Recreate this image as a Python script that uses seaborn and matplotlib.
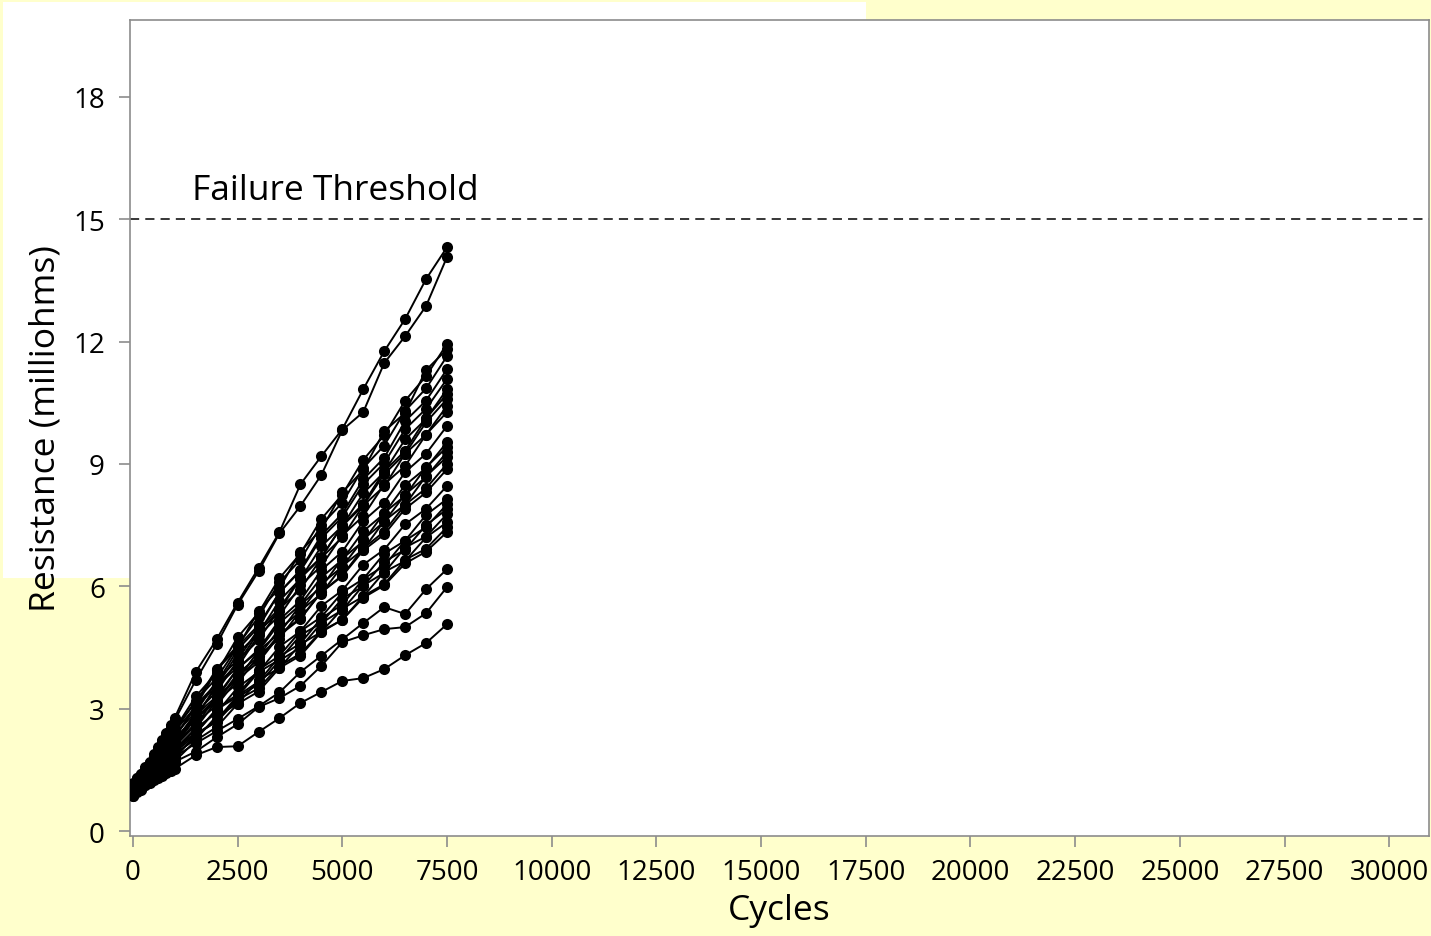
import numpy as np
import pandas as pd
import matplotlib
matplotlib.use("Agg")
import matplotlib.pyplot as plt
from matplotlib.patches import Rectangle
import seaborn as sns

# measurement times (cycles)
cycles = [0, 100, 200, 300, 400, 500, 600, 700, 800, 900, 1000,
          1500, 2000, 2500, 3000, 3500, 4000, 4500, 5000, 5500, 6000, 6500, 7000, 7500]

# resistance (milliohms) per unit
u01 = [1.00, 1.17, 1.35, 1.52, 1.70, 1.88, 2.05, 2.24, 2.41, 2.60, 2.78, 3.90, 4.70, 5.60, 6.45, 7.33, 8.50, 9.19, 9.85, 10.83, 11.76, 12.55, 13.53, 14.31]
u02 = [1.02, 1.18, 1.34, 1.50, 1.68, 1.85, 2.02, 2.20, 2.38, 2.55, 2.72, 3.70, 4.58, 5.55, 6.37, 7.30, 7.97, 8.73, 9.83, 10.27, 11.47, 12.13, 12.87, 14.07]
u03 = [1.05, 1.21, 1.34, 1.47, 1.63, 1.78, 1.95, 2.07, 2.21, 2.33, 2.50, 3.30, 3.88, 4.75, 5.35, 6.20, 6.80, 7.65, 8.25, 9.10, 9.70, 10.55, 11.15, 11.94]
u04 = [0.98, 1.14, 1.25, 1.43, 1.55, 1.72, 1.83, 2.01, 2.12, 2.30, 2.45, 3.05, 3.95, 4.50, 5.40, 5.95, 6.85, 7.40, 8.30, 8.85, 9.80, 10.25, 11.30, 11.81]
u05 = [1.10, 1.22, 1.40, 1.52, 1.68, 1.79, 1.96, 2.06, 2.24, 2.35, 2.53, 3.15, 3.98, 4.55, 5.25, 6.10, 6.65, 7.50, 8.05, 8.90, 9.45, 10.30, 10.85, 11.64]
u06 = [0.92, 1.08, 1.18, 1.36, 1.45, 1.63, 1.74, 1.91, 2.02, 2.19, 2.30, 3.08, 3.62, 4.45, 5.00, 5.85, 6.40, 7.25, 7.78, 8.62, 9.15, 10.05, 10.55, 11.32]
u07 = [1.15, 1.30, 1.40, 1.57, 1.66, 1.83, 1.92, 2.10, 2.20, 2.36, 2.45, 3.20, 3.75, 4.52, 5.05, 5.85, 6.38, 7.18, 7.70, 8.50, 9.02, 9.85, 10.35, 11.08]
u08 = [1.00, 1.15, 1.24, 1.41, 1.50, 1.68, 1.77, 1.94, 2.03, 2.20, 2.29, 3.05, 3.55, 4.35, 4.85, 5.65, 6.18, 6.98, 7.48, 8.28, 8.80, 9.60, 10.10, 10.83]
u09 = [0.88, 1.03, 1.12, 1.29, 1.38, 1.56, 1.65, 1.82, 1.91, 2.08, 2.17, 2.78, 3.58, 4.10, 4.88, 5.40, 6.20, 6.70, 7.50, 8.02, 8.82, 9.32, 10.12, 10.71]
u10 = [1.08, 1.19, 1.35, 1.44, 1.61, 1.70, 1.86, 1.95, 2.11, 2.21, 2.37, 2.92, 3.68, 4.20, 4.95, 5.45, 6.22, 6.72, 7.48, 7.98, 8.75, 9.25, 10.02, 10.59]
u11 = [0.95, 1.10, 1.18, 1.35, 1.44, 1.60, 1.69, 1.85, 1.94, 2.11, 2.19, 2.90, 3.42, 4.18, 4.68, 5.45, 5.92, 6.70, 7.20, 7.98, 8.45, 9.25, 9.72, 10.42]
u12 = [1.02, 1.12, 1.29, 1.37, 1.53, 1.62, 1.78, 1.86, 2.03, 2.11, 2.27, 2.80, 3.55, 4.02, 4.80, 5.28, 6.02, 6.50, 7.25, 7.72, 8.50, 8.95, 9.72, 10.27]
u13 = [0.90, 1.04, 1.12, 1.28, 1.36, 1.52, 1.60, 1.76, 1.84, 2.00, 2.08, 2.78, 3.25, 3.98, 4.45, 5.18, 5.65, 6.40, 6.85, 7.60, 8.05, 8.80, 9.25, 9.93]
u14 = [1.12, 1.25, 1.32, 1.48, 1.55, 1.70, 1.77, 1.92, 2.00, 2.15, 2.22, 2.85, 3.30, 3.98, 4.42, 5.10, 5.55, 6.22, 6.65, 7.35, 7.78, 8.48, 8.90, 9.53]
u15 = [0.97, 1.10, 1.18, 1.33, 1.40, 1.55, 1.63, 1.78, 1.85, 2.00, 2.08, 2.60, 3.30, 3.72, 4.42, 4.85, 5.55, 5.98, 6.68, 7.10, 7.80, 8.22, 8.92, 9.41]
u16 = [1.05, 1.14, 1.29, 1.36, 1.51, 1.58, 1.73, 1.80, 1.95, 2.02, 2.17, 2.76, 3.18, 3.86, 4.28, 4.96, 5.38, 6.06, 6.48, 7.15, 7.58, 8.25, 8.68, 9.29]
u17 = [0.93, 1.06, 1.13, 1.28, 1.35, 1.50, 1.57, 1.72, 1.79, 1.94, 2.01, 2.52, 3.20, 3.62, 4.30, 4.72, 5.40, 5.82, 6.50, 6.90, 7.60, 8.00, 8.70, 9.17]
u18 = [1.00, 1.09, 1.23, 1.30, 1.45, 1.51, 1.66, 1.73, 1.87, 1.94, 2.09, 2.66, 3.08, 3.73, 4.14, 4.80, 5.20, 5.86, 6.27, 6.93, 7.34, 8.00, 8.40, 9.00]
u19 = [1.18, 1.30, 1.37, 1.51, 1.57, 1.71, 1.78, 1.92, 1.98, 2.12, 2.19, 2.78, 3.17, 3.80, 4.20, 4.83, 5.22, 5.85, 6.25, 6.88, 7.27, 7.90, 8.30, 8.87]
u20 = [0.95, 1.07, 1.13, 1.27, 1.33, 1.47, 1.53, 1.67, 1.73, 1.87, 1.93, 2.52, 2.90, 3.52, 3.90, 4.52, 4.90, 5.52, 5.90, 6.53, 6.90, 7.52, 7.90, 8.46]
u21 = [1.03, 1.10, 1.24, 1.29, 1.43, 1.48, 1.62, 1.67, 1.81, 1.86, 2.00, 2.40, 3.00, 3.35, 3.95, 4.30, 4.90, 5.25, 5.85, 6.18, 6.80, 7.12, 7.75, 8.14]
u22 = [0.87, 0.99, 1.04, 1.18, 1.23, 1.37, 1.42, 1.56, 1.61, 1.75, 1.80, 2.36, 2.72, 3.32, 3.66, 4.28, 4.60, 5.22, 5.55, 6.18, 6.50, 7.12, 7.45, 8.01]
u23 = [1.10, 1.17, 1.30, 1.35, 1.48, 1.53, 1.66, 1.71, 1.84, 1.89, 2.03, 2.40, 2.98, 3.30, 3.90, 4.20, 4.80, 5.10, 5.70, 6.00, 6.60, 6.90, 7.50, 7.89]
u24 = [0.92, 1.03, 1.08, 1.21, 1.27, 1.40, 1.45, 1.58, 1.63, 1.76, 1.81, 2.35, 2.70, 3.28, 3.60, 4.18, 4.50, 5.10, 5.42, 6.02, 6.33, 6.95, 7.22, 7.77]
u25 = [1.00, 1.07, 1.20, 1.24, 1.37, 1.42, 1.55, 1.59, 1.72, 1.77, 1.90, 2.25, 2.82, 3.12, 3.70, 4.00, 4.58, 4.88, 5.45, 5.75, 6.35, 6.62, 7.20, 7.57]
u26 = [0.85, 0.96, 1.01, 1.13, 1.18, 1.31, 1.36, 1.49, 1.53, 1.66, 1.71, 2.22, 2.55, 3.12, 3.42, 4.00, 4.30, 4.88, 5.18, 5.76, 6.05, 6.65, 6.92, 7.45]
u27 = [1.06, 1.12, 1.25, 1.29, 1.41, 1.46, 1.58, 1.63, 1.75, 1.79, 1.92, 2.38, 2.68, 3.22, 3.50, 4.05, 4.35, 4.90, 5.18, 5.72, 6.02, 6.56, 6.85, 7.33]
u28 = [0.95, 1.05, 1.12, 1.22, 1.30, 1.40, 1.47, 1.57, 1.64, 1.74, 1.82, 2.15, 2.45, 2.75, 3.06, 3.40, 3.90, 4.30, 4.70, 5.10, 5.49, 5.32, 5.93, 6.42]
u29 = [1.00, 1.07, 1.15, 1.21, 1.29, 1.35, 1.43, 1.49, 1.57, 1.63, 1.70, 1.95, 2.30, 2.62, 3.04, 3.26, 3.56, 4.05, 4.63, 4.80, 4.95, 5.00, 5.34, 5.98]
u30 = [0.98, 1.03, 1.09, 1.14, 1.20, 1.25, 1.31, 1.36, 1.42, 1.47, 1.53, 1.86, 2.06, 2.08, 2.43, 2.77, 3.14, 3.41, 3.68, 3.75, 3.97, 4.31, 4.61, 5.07]

units = [u01, u02, u03, u04, u05, u06, u07, u08, u09, u10, u11, u12, u13, u14, u15,
         u16, u17, u18, u19, u20, u21, u22, u23, u24, u25, u26, u27, u28, u29, u30]

threshold = 15
x_ticks = [0, 2500, 5000, 7500, 10000, 12500, 15000, 17500, 20000, 22500, 25000, 27500, 30000]
y_ticks = [0, 3, 6, 9, 12, 15, 18]

# long form table for seaborn
rows = []
for i, vals in enumerate(units):
    for c, r in zip(cycles, vals):
        rows.append({"unit": i + 1, "Cycles": c, "Resistance": r})
df = pd.DataFrame(rows)

sns.set_style("ticks")
plt.rcParams["font.family"] = ["Open Sans", "DejaVu Sans"]
plt.rcParams["text.color"] = "black"
plt.rcParams["axes.labelcolor"] = "black"

W, H = 1431, 937
fig = plt.figure(figsize=(W / 100, H / 100), dpi=100)
fig.patch.set_facecolor("#FFFFCC")
# white block behind upper-left part
fig.patches.append(Rectangle((3 / W, 358 / H), 863 / W, 576 / H,
                             transform=fig.transFigure, facecolor="white",
                             edgecolor="none", zorder=-5))

ax = fig.add_axes([130 / W, 100 / H, 1299 / W, 816 / H])
ax.set_zorder(1)
ax.set_facecolor("white")

sns.lineplot(data=df, x="Cycles", y="Resistance", units="unit", estimator=None,
             color="black", linewidth=1.4, marker="o", markersize=8,
             markeredgewidth=0, ax=ax, zorder=3)

ax.axhline(threshold, color="black", linestyle=(0, (6, 4)), linewidth=1.1)
ax.text(1420, 15.5, "Failure Threshold", fontsize=25.5, color="black",
        ha="left", va="baseline")

ax.set_xlim(-70, 30950)
ax.set_ylim(-0.12, 19.88)
ax.set_xticks(x_ticks)
ax.set_yticks(y_ticks)
ax.tick_params(axis="both", direction="out", length=8, width=1.2,
               color="#8c8c8c", labelsize=20, labelcolor="black")
ax.tick_params(axis="x", pad=8)
ax.tick_params(axis="y", pad=10)
for s in ax.spines.values():
    s.set_color("#8c8c8c")
    s.set_linewidth(1.2)

ax.set_xlabel("Cycles", fontsize=25.5, labelpad=5)
ax.set_ylabel("Resistance (milliohms)", fontsize=25.5, labelpad=8)

fig.savefig("out.png", dpi=100, facecolor=fig.get_facecolor())
